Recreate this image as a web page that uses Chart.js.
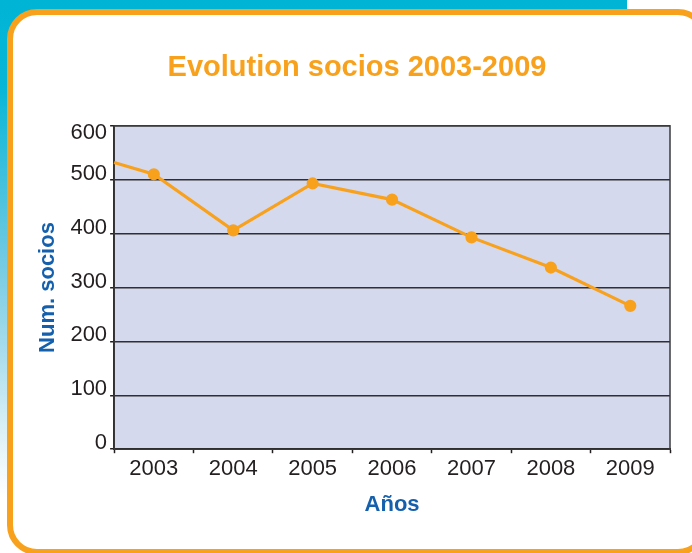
<!DOCTYPE html>
<html>
<head>
<meta charset="utf-8">
<script src="https://cdn.jsdelivr.net/npm/chart.js@4.4.1/dist/chart.umd.min.js"></script>
<style>
  html, body { margin: 0; padding: 0; background: #ffffff; overflow: hidden; }
  #bg {
    position: absolute; left: 0; top: 0; width: 627px; height: 553px;
    background: linear-gradient(to bottom, #00b4d6 0%, #08b6d7 16%, #6cc8e1 45%, #aadded 64%, #e2f3f8 80%, #ffffff 90%);
  }
  #panel {
    position: absolute; left: 7px; top: 9px; width: 701px; height: 546px;
    box-sizing: border-box; border: 6px solid #f8a11d; border-radius: 30px; background: #ffffff;
  }
  #wrap { position: absolute; left: 0; top: 0; width: 692px; height: 553px; }
</style>
</head>
<body>
<div id="bg"></div>
<div id="panel"></div>
<div id="wrap"><canvas id="chart"></canvas></div>
<script>
  const years = [2003, 2004, 2005, 2006, 2007, 2008, 2009];
  const socios = [510, 406, 493, 463, 393, 337, 266];
  // the line enters from the left edge of the plot (half a year before 2003)
  const startYear = 2002.5;
  const startValue = 532;
  const yTicks = [0, 100, 200, 300, 400, 500, 600];

  const orange = "#f8a11d";
  const blue = "#1560ad";
  const ink = "#231f20";
  const font = "'Liberation Sans', Arial, sans-serif";

  const points = [{ x: startYear, y: startValue }].concat(
    years.map((year, i) => ({ x: year, y: socios[i] }))
  );

  const plotFrame = {
    id: "plotFrame",
    beforeDraw(chart) {
      const { ctx, chartArea: a } = chart;
      ctx.save();
      ctx.fillStyle = "#d5d9ee";
      ctx.fillRect(a.left, a.top, a.right - a.left, a.bottom - a.top);
      ctx.restore();
    },
    beforeDatasetsDraw(chart) {
      const { ctx, chartArea: a } = chart;
      ctx.save();
      ctx.strokeStyle = "#3b3b3d";
      ctx.lineWidth = 1.5;
      ctx.strokeRect(a.left, a.top, a.right - a.left, a.bottom - a.top);
      ctx.restore();
    }
  };

  new Chart(document.getElementById("chart"), {
    type: "line",
    data: {
      datasets: [
        {
          label: "Num. socios",
          data: points,
          borderColor: orange,
          backgroundColor: orange,
          pointBackgroundColor: orange,
          pointBorderColor: orange,
          pointRadius: (c) => (c.dataIndex === 0 ? 0 : 4.5),
          borderWidth: 3.2,
          tension: 0,
          clip: false
        }
      ]
    },
    options: {
      responsive: true,
      maintainAspectRatio: false,
      animation: false,
      layout: { padding: { top: 51, left: 44, right: 22, bottom: 31 } },
      plugins: {
        legend: { display: false },
        tooltip: { enabled: false },
        title: {
          display: true,
          text: "Evolution socios 2003-2009",
          color: orange,
          font: { family: font, size: 29, weight: "bold" },
          padding: { top: 0, bottom: 40 }
        }
      },
      scales: {
        x: {
          type: "linear",
          min: 2002.5,
          max: 2009.5,
          afterBuildTicks(scale) {
            const ticks = [{ value: startYear }];
            years.forEach((y) => {
              ticks.push({ value: y });
              ticks.push({ value: y + 0.5 });
            });
            scale.ticks = ticks;
          },
          ticks: {
            autoSkip: false,
            maxRotation: 0,
            padding: 3,
            color: ink,
            font: { family: font, size: 22 },
            callback: (v) => (Number.isInteger(v) ? String(v) : "")
          },
          grid: {
            display: true,
            drawOnChartArea: false,
            drawTicks: true,
            tickLength: 4,
            tickWidth: 1.5,
            tickColor: (c) => (c.tick && Number.isInteger(c.tick.value) ? "rgba(0,0,0,0)" : ink)
          },
          border: { display: true, color: ink, width: 2 },
          title: {
            display: true,
            text: "Años",
            color: blue,
            font: { family: font, size: 22, weight: "bold" },
            padding: { top: 6, bottom: 4 }
          }
        },
        y: {
          min: 0,
          max: 600,
          afterBuildTicks(scale) {
            scale.ticks = yTicks.map((v) => ({ value: v }));
          },
          ticks: {
            autoSkip: false,
            padding: 3,
            labelOffset: -6,
            color: ink,
            font: { family: font, size: 22 },
            // top label sits just inside the plot, below its gridline
            callback: (v) => (v === 600 ? ["", String(v)] : String(v))
          },
          grid: {
            color: "#2f2f31",
            lineWidth: 1.5,
            tickLength: 4,
            tickColor: ink
          },
          border: { display: true, color: ink, width: 2 },
          title: {
            display: true,
            text: "Num. socios",
            color: blue,
            font: { family: font, size: 22, weight: "bold" },
            padding: { top: -9, bottom: 6 }
          }
        }
      }
    },
    plugins: [plotFrame]
  });
</script>
</body>
</html>
